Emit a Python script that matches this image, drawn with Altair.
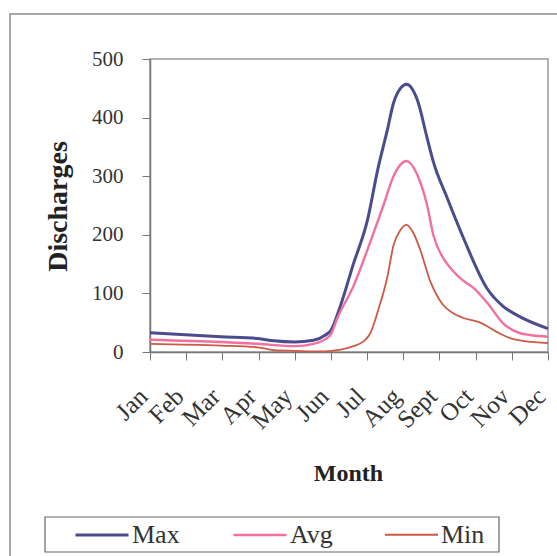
import altair as alt
import pandas as pd

months = ["Jan", "Feb", "Mar", "Apr", "May", "Jun", "Jul", "Aug", "Sept", "Oct", "Nov", "Dec"]
y_ticks = [0, 100, 200, 300, 400, 500]

max_pos = [0, 1.96, 2.98, 3.42, 4.0, 4.52, 4.85, 5.0, 5.27, 5.62, 6.01, 6.29, 6.56, 6.73, 6.92, 7.09, 7.39, 7.66, 7.83, 8.22, 8.66, 9.32, 9.76, 10.23, 11.0]
max_val = [33, 26, 23, 19, 17, 20, 29, 37, 80, 150, 225, 310, 379, 425, 450, 457, 430, 365, 325, 262, 195, 108, 78, 60, 40]

avg_pos = [0, 1.96, 2.98, 4.0, 4.52, 4.85, 5.0, 5.18, 5.62, 6.09, 6.45, 6.73, 7.09, 7.39, 7.66, 7.83, 8.16, 8.35, 8.63, 8.91, 9.32, 9.76, 10.23, 10.5, 11.0]
avg_val = [21, 17, 14, 10, 14, 22, 30, 58, 112, 188, 250, 300, 326, 302, 250, 200, 155, 140, 123, 111, 84, 49, 32, 29, 26]

min_pos = [0, 1.96, 2.98, 3.42, 4.0, 4.71, 5.0, 5.27, 5.62, 5.9, 6.09, 6.31, 6.56, 6.73, 6.92, 7.09, 7.28, 7.47, 7.75, 8.08, 8.38, 8.66, 9.13, 9.59, 10.04, 11.0]
min_val = [14, 11, 8, 3, 2, 1, 2, 4, 10, 18, 32, 72, 128, 182, 208, 217, 203, 174, 120, 82, 66, 58, 50, 34, 22, 15]

series = ["Max", "Avg", "Min"]
colors = ["#4b4c8e", "#f2709e", "#cc5a44"]

rows = []
for name, xs, vs in [("Max", max_pos, max_val), ("Avg", avg_pos, avg_val), ("Min", min_pos, min_val)]:
    for i, (x, v) in enumerate(zip(xs, vs)):
        rows.append({"series": name, "m": x, "v": v, "order": i})
df = pd.DataFrame(rows)

FONT = "Liberation Serif"
month_js = "[" + ",".join("'%s'" % m for m in months) + "]"

lines = alt.Chart(df).mark_line(interpolate="monotone").encode(
    x=alt.X("m:Q",
            scale=alt.Scale(domain=[0, 11], nice=False, zero=False),
            axis=alt.Axis(values=list(range(12)), labelExpr=month_js + "[datum.value]",
                          labelAngle=-45, labelAlign="right", labelBaseline="middle",
                          labelFont=FONT, labelFontSize=25, labelColor="#333",
                          labelPadding=32, labelOffset=-7, tickSize=8, tickColor="#777",
                          domainColor="#777", domainWidth=1.5, grid=False,
                          title="Month", titleFont=FONT, titleFontSize=24, titleFontWeight="bold",
                          titleColor="#222", titleX=198, titleY=128, titleAlign="center",
                          titleBaseline="alphabetic", labelOverlap=False)),
    y=alt.Y("v:Q",
            scale=alt.Scale(domain=[0, 500], nice=False),
            axis=alt.Axis(values=y_ticks, labelFont=FONT, labelFontSize=21, labelColor="#333",
                          tickSize=8, tickColor="#777", labelPadding=19,
                          domainColor="#777", domainWidth=1.5, grid=False,
                          title="Discharges", titleFont=FONT, titleFontSize=28, titleFontWeight="bold",
                          titleColor="#222", titleAngle=-90, titleX=-92, titleY=147,
                          titleAlign="center", titleBaseline="middle")),
    color=alt.Color("series:N", scale=alt.Scale(domain=series, range=colors),
                    legend=alt.Legend(orient="none", legendX=-76, legendY=448, direction="horizontal",
                                      title=None, symbolType="stroke", symbolSize=2809,
                                      symbolStrokeWidth=2, labelFont=FONT, labelFontSize=26,
                                      labelColor="#333", labelOffset=2, columnPadding=48,
                                      padding=0)),
    strokeWidth=alt.StrokeWidth("series:N", scale=alt.Scale(domain=series, range=[3, 1.8, 2]), legend=None),
    order="order:Q",
)

frame_df = pd.DataFrame({"k": [0]})
outer = alt.Chart(frame_df).mark_rect(fill="transparent", stroke="#8a8a8a", strokeWidth=1.5).encode(
    x=alt.value(-140), x2=alt.value(420), y=alt.value(-45), y2=alt.value(520)
)
legend_box = alt.Chart(frame_df).mark_rect(fill="transparent", stroke="#666", strokeWidth=1.2).encode(
    x=alt.value(-105), x2=alt.value(349), y=alt.value(458), y2=alt.value(493)
)

chart = alt.layer(outer, legend_box, lines).properties(
    width=398, height=293,
    padding={"left": 150, "top": 59, "right": 9, "bottom": 204},
    autosize=alt.AutoSizeParams(type="none"),
    background="white",
).configure_view(stroke="#999", strokeWidth=1.5)

chart.save("out.html", embed_options={"renderer": "svg", "actions": False})
